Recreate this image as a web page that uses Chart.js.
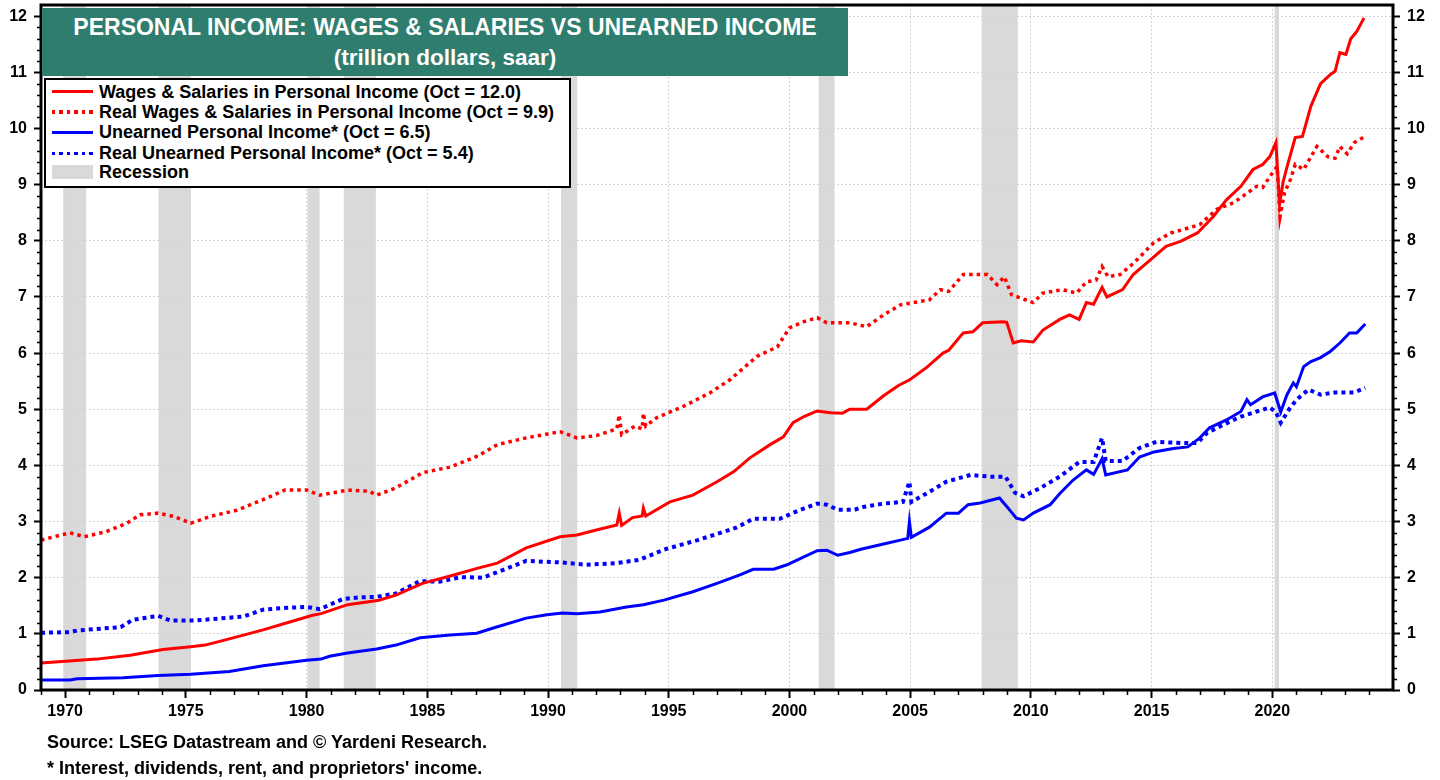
<!DOCTYPE html>
<html>
<head>
<meta charset="utf-8">
<script src="https://cdn.jsdelivr.net/npm/chart.js@4.4.1/dist/chart.umd.min.js"></script>
<style>
  html, body { margin: 0; padding: 0; background: #fff; }
  #wrap { position: relative; width: 1440px; height: 780px; overflow: hidden; font-family: "Liberation Sans", Arial, sans-serif; }
  canvas { position: absolute; left: 0; top: 0; }
  #titlebox { position: absolute; left: 42px; top: 8px; width: 806px; height: 68px; background: #2e7d6e; color: #fff; font-weight: bold; font-size: 22.5px; text-align: center; }
  #titlebox .l1 { position: absolute; left: 0; right: 0; top: 6px; line-height: 26px; white-space: nowrap; font-size: 23px; }
  #titlebox .l2 { position: absolute; left: 0; right: 0; top: 37px; line-height: 26px; white-space: nowrap; }
  #legend { position: absolute; left: 44px; top: 78px; width: 527px; height: 110px; box-sizing: border-box; border: 2px solid #000; background: #fff; }
  .row { position: absolute; left: 0; height: 20px; }
  .sample { position: absolute; left: 6px; width: 41px; }
  .ltext { position: absolute; left: 53px; top: 0; white-space: nowrap; font-weight: bold; font-size: 18px; line-height: 20px; color: #000; }
  .solid-red { top: 8.5px; height: 3px; background: #ff0000; }
  .dot-red { top: 8.5px; height: 3.5px; background: repeating-linear-gradient(90deg, #ff0000 0 3.5px, transparent 3.5px 7.5px); }
  .solid-blue { top: 8.5px; height: 3px; background: #0000ff; }
  .dot-blue { top: 8.5px; height: 3.5px; background: repeating-linear-gradient(90deg, #0000ff 0 3.5px, transparent 3.5px 7.5px); }
  .rec { top: 3px; height: 14px; background: #d9d9d9; }
  .note { position: absolute; left: 47px; font-weight: bold; font-size: 18px; color: #000; white-space: nowrap; line-height: 20px; }
</style>
</head>
<body>
<div id="wrap">
  <canvas id="c" width="1440" height="780"></canvas>
  <div id="titlebox">
    <div class="l1">PERSONAL INCOME: WAGES &amp; SALARIES VS UNEARNED INCOME</div>
    <div class="l2">(trillion dollars, saar)</div>
  </div>
  <div id="legend"></div>
  <div class="note" style="top:732px">Source: LSEG Datastream and © Yardeni Research.</div>
  <div class="note" style="top:758px">* Interest, dividends, rent, and proprietors' income.</div>
</div>
<script>
// ---------- DATA ----------
const seriesNames = [
  "Wages & Salaries in Personal Income (Oct = 12.0)",
  "Real Wages & Salaries in Personal Income (Oct = 9.9)",
  "Unearned Personal Income* (Oct = 6.5)",
  "Real Unearned Personal Income* (Oct = 5.4)"
];
const recessionLabel = "Recession";

const wagesYears = [1969.0,1970.3,1971.3,1972.7,1974.05,1975.2,1975.8,1976.8,1978.2,1979.3,1980.25,1980.6,1981.7,1983.0,1983.7,1984.8,1985.95,1987.1,1987.9,1989.1,1990.5,1991.2,1992.0,1992.85,1992.95,1993.05,1993.5,1993.9,1993.95,1994.05,1995.05,1996.0,1997.0,1997.7,1998.35,1999.2,1999.75,2000.15,2000.6,2001.15,2001.7,2002.2,2002.5,2003.2,2003.9,2004.5,2005.0,2005.7,2006.36,2006.6,2007.2,2007.6,2008.0,2008.85,2009.0,2009.27,2009.6,2010.1,2010.5,2011.2,2011.6,2012.0,2012.3,2012.6,2012.95,2013.15,2013.8,2014.24,2014.95,2015.6,2016.2,2016.9,2017.55,2018.1,2018.7,2019.2,2019.6,2019.9,2020.15,2020.3,2020.45,2020.6,2020.95,2021.25,2021.6,2022.0,2022.4,2022.6,2022.8,2023.05,2023.25,2023.5,2023.8];
const wagesValues = [0.48,0.52,0.55,0.62,0.72,0.77,0.80,0.91,1.07,1.21,1.33,1.36,1.52,1.60,1.69,1.90,2.03,2.17,2.26,2.53,2.73,2.76,2.85,2.94,3.15,2.93,3.07,3.10,3.24,3.10,3.35,3.47,3.71,3.89,4.13,4.37,4.51,4.76,4.87,4.97,4.94,4.93,5.00,5.00,5.24,5.42,5.53,5.75,6.00,6.05,6.36,6.38,6.54,6.56,6.55,6.18,6.22,6.20,6.41,6.60,6.68,6.60,6.90,6.87,7.17,7.00,7.13,7.40,7.66,7.90,7.99,8.14,8.43,8.73,8.97,9.27,9.36,9.50,9.75,8.65,9.05,9.30,9.84,9.86,10.40,10.80,10.96,11.02,11.35,11.32,11.60,11.73,11.97];

const realWagesYears = [1969.0,1970.2,1970.8,1971.7,1972.55,1973.1,1973.85,1974.5,1975.2,1976.0,1977.1,1978.2,1979.1,1980.0,1980.55,1981.7,1982.6,1982.9,1983.7,1984.8,1985.95,1987.1,1987.9,1989.1,1990.5,1991.2,1992.0,1992.85,1992.95,1993.05,1993.6,1993.9,1993.95,1994.05,1994.5,1995.6,1996.7,1997.55,1998.65,1999.5,2000.0,2000.6,2001.15,2001.55,2002.5,2003.2,2003.9,2004.6,2005.8,2006.25,2006.6,2007.2,2008.2,2008.6,2008.9,2009.2,2010.1,2010.5,2011.3,2011.9,2012.3,2012.7,2012.95,2013.2,2013.7,2014.25,2015.1,2015.8,2016.3,2017.0,2017.7,2018.4,2018.8,2019.35,2019.6,2020.1,2020.2,2020.32,2020.5,2020.75,2020.95,2021.3,2021.7,2021.85,2022.3,2022.6,2022.8,2023.1,2023.4,2023.85];
const realWagesValues = [2.67,2.80,2.73,2.82,2.97,3.12,3.15,3.09,2.97,3.09,3.20,3.39,3.56,3.56,3.47,3.56,3.54,3.47,3.60,3.87,3.97,4.17,4.37,4.49,4.60,4.49,4.53,4.65,4.90,4.55,4.70,4.65,4.93,4.70,4.85,5.05,5.29,5.53,5.94,6.11,6.45,6.56,6.63,6.54,6.54,6.47,6.68,6.86,6.95,7.13,7.10,7.40,7.40,7.22,7.36,7.04,6.90,7.07,7.13,7.07,7.27,7.30,7.54,7.36,7.40,7.60,7.97,8.14,8.20,8.29,8.56,8.68,8.80,8.97,8.95,9.27,9.32,8.43,8.85,9.09,9.36,9.27,9.57,9.68,9.50,9.47,9.68,9.55,9.75,9.86];

const unearnedYears = [1969.0,1970.2,1970.5,1972.4,1973.85,1975.2,1976.8,1978.2,1980.0,1980.6,1980.95,1981.7,1982.9,1983.7,1984.7,1985.95,1987.05,1987.7,1989.1,1989.95,1990.6,1991.2,1992.15,1993.25,1993.95,1994.8,1996.0,1997.0,1997.95,1998.5,1999.35,1999.9,2000.6,2001.15,2001.55,2002.0,2002.5,2003.0,2003.9,2004.6,2004.9,2004.97,2005.05,2005.8,2006.5,2007.0,2007.4,2007.9,2008.7,2009.0,2009.4,2009.7,2010.1,2010.8,2011.2,2011.75,2012.3,2012.6,2012.95,2013.1,2014.0,2014.5,2015.1,2015.9,2016.5,2017.0,2017.4,2018.1,2018.7,2018.95,2019.1,2019.6,2020.1,2020.35,2020.6,2020.87,2021.0,2021.3,2021.6,2022.0,2022.4,2022.8,2023.2,2023.5,2023.85];
const unearnedValues = [0.18,0.18,0.20,0.22,0.26,0.28,0.33,0.43,0.53,0.55,0.60,0.66,0.73,0.80,0.93,0.98,1.01,1.10,1.28,1.34,1.37,1.36,1.39,1.48,1.52,1.60,1.75,1.90,2.05,2.15,2.15,2.23,2.37,2.48,2.49,2.40,2.45,2.51,2.60,2.67,2.70,3.00,2.72,2.90,3.15,3.15,3.30,3.33,3.42,3.27,3.06,3.03,3.15,3.30,3.50,3.74,3.92,3.84,4.12,3.83,3.92,4.15,4.24,4.30,4.33,4.49,4.67,4.81,4.96,5.17,5.08,5.22,5.29,4.95,5.25,5.47,5.40,5.76,5.85,5.92,6.03,6.18,6.36,6.36,6.52];

const realUnearnedYears = [1969.0,1970.2,1970.5,1972.3,1972.8,1973.85,1974.35,1975.45,1977.4,1978.2,1979.0,1980.0,1980.55,1981.5,1982.2,1982.9,1983.7,1984.7,1985.5,1986.4,1987.3,1988.15,1989.1,1990.6,1991.6,1992.85,1993.8,1994.8,1996.2,1997.8,1998.5,1999.6,2000.45,2001.15,2001.55,2002.0,2002.7,2003.05,2003.9,2004.7,2004.97,2005.05,2005.8,2006.5,2007.5,2008.3,2008.95,2009.35,2009.7,2010.4,2011.2,2012.0,2012.6,2012.95,2013.1,2013.8,2014.5,2015.2,2016.2,2016.9,2017.3,2017.95,2018.7,2019.35,2019.9,2020.15,2020.35,2020.7,2021.0,2021.5,2022.0,2022.6,2023.4,2023.85];
const realUnearnedValues = [1.02,1.03,1.06,1.12,1.25,1.32,1.24,1.24,1.31,1.43,1.46,1.48,1.44,1.62,1.65,1.66,1.72,1.94,1.93,2.01,2.00,2.14,2.30,2.27,2.23,2.26,2.32,2.50,2.67,2.89,3.05,3.05,3.21,3.32,3.30,3.21,3.21,3.26,3.32,3.35,3.71,3.35,3.53,3.71,3.83,3.80,3.80,3.51,3.45,3.60,3.80,4.06,4.06,4.49,4.08,4.08,4.31,4.42,4.40,4.40,4.58,4.72,4.87,4.96,5.03,4.95,4.76,5.00,5.17,5.35,5.26,5.30,5.30,5.38];

const recessionStarts = [1969.92,1973.87,1980.04,1981.54,1990.54,2001.21,2007.96,2020.10];
const recessionEnds   = [1970.87,1975.21,1980.54,1982.87,1991.21,2001.87,2009.46,2020.28];

const xTickYears  = [1970,1975,1980,1985,1990,1995,2000,2005,2010,2015,2020];
const xTickLabels = ["1970","1975","1980","1985","1990","1995","2000","2005","2010","2015","2020"];
const yTickValues = [0,1,2,3,4,5,6,7,8,9,10,11,12];
const yTickLabels = ["0","1","2","3","4","5","6","7","8","9","10","11","12"];

// ---------- BUILD ----------
const RED = "#ff0000", BLUE = "#0000ff", BAND = "#d9d9d9";
function pts(xs, ys) { return xs.map((x, i) => ({ x: x, y: ys[i] })); }

const legendItems = [
  { cls: "solid-red", text: seriesNames[0] },
  { cls: "dot-red", text: seriesNames[1] },
  { cls: "solid-blue", text: seriesNames[2] },
  { cls: "dot-blue", text: seriesNames[3] },
  { cls: "rec", text: recessionLabel }
];
const rowTops = [1.5, 21.5, 42, 63, 82];
const legendEl = document.getElementById("legend");
legendItems.forEach((it, i) => {
  const row = document.createElement("div");
  row.className = "row";
  row.style.top = rowTops[i] + "px";
  row.style.width = "100%";
  const s = document.createElement("div");
  s.className = "sample " + it.cls;
  const t = document.createElement("div");
  t.className = "ltext";
  t.textContent = it.text;
  row.appendChild(s); row.appendChild(t);
  legendEl.appendChild(row);
});

const bandsPlugin = {
  id: "bands",
  beforeDraw(chart) {
    const { ctx, chartArea, scales } = chart;
    ctx.save();
    ctx.fillStyle = BAND;
    recessionStarts.forEach((s, i) => {
      const x0 = scales.x.getPixelForValue(s);
      const x1 = scales.x.getPixelForValue(recessionEnds[i]);
      ctx.fillRect(x0, chartArea.top, x1 - x0, chartArea.bottom - chartArea.top);
    });
    ctx.restore();
  }
};

const framePlugin = {
  id: "frame",
  afterDraw(chart) {
    const { ctx, chartArea, scales } = chart;
    const { left, right, top, bottom } = chartArea;
    ctx.save();
    ctx.strokeStyle = "#000";
    ctx.lineWidth = 1.5;
    ctx.beginPath();
    for (let k = 0; k <= 61; k++) {
      if (k % 5 === 0) continue;
      const v = k * 0.2;
      if (v > scales.y.max) break;
      const py = Math.round(scales.y.getPixelForValue(v)) + 0.5;
      ctx.moveTo(left - 4, py); ctx.lineTo(left, py);
      ctx.moveTo(right, py); ctx.lineTo(right + 4, py);
    }
    for (let yr = 1969; yr <= 2025; yr++) {
      if (yr % 5 === 0) continue;
      const px = Math.round(scales.x.getPixelForValue(yr)) + 0.5;
      ctx.moveTo(px, bottom); ctx.lineTo(px, bottom + 5);
    }
    ctx.stroke();
    ctx.lineWidth = 3;
    ctx.strokeRect(left, top, right - left, bottom - top);
    ctx.restore();
  }
};

const tickFont = { family: "'Liberation Sans', Arial, sans-serif", size: 16, weight: "bold" };

new Chart(document.getElementById("c").getContext("2d"), {
  type: "line",
  data: {
    datasets: [
      { label: seriesNames[0], data: pts(wagesYears, wagesValues), borderColor: RED, borderWidth: 3, pointRadius: 0, tension: 0 },
      { label: seriesNames[2], data: pts(unearnedYears, unearnedValues), borderColor: BLUE, borderWidth: 3, pointRadius: 0, tension: 0 },
      { label: seriesNames[1], data: pts(realWagesYears, realWagesValues), borderColor: RED, borderWidth: 3.5, borderDash: [3.5, 4], pointRadius: 0, tension: 0 },
      { label: seriesNames[3], data: pts(realUnearnedYears, realUnearnedValues), borderColor: BLUE, borderWidth: 4, borderDash: [4, 4], pointRadius: 0, tension: 0 }
    ]
  },
  options: {
    responsive: false,
    animation: false,
    events: [],
    layout: { padding: { top: 5, left: 0, right: 0, bottom: 0 } },
    plugins: { legend: { display: false }, tooltip: { enabled: false }, title: { display: false } },
    scales: {
      x: {
        type: "linear", position: "bottom", min: 1969, max: 2025,
        afterBuildTicks: s => { s.ticks = xTickYears.map(v => ({ value: v })); },
        afterFit: s => { s.height = 90; s.paddingLeft = 0; s.paddingRight = 0; },
        ticks: { font: tickFont, color: "#000", padding: 4, maxRotation: 0, autoSkip: false,
                 callback: (v, i) => xTickLabels[i] },
        grid: { color: "#d4d4d4", lineWidth: 1, tickLength: 8, tickColor: "#000", tickWidth: 2 },
        border: { display: false, dash: [2, 2] }
      },
      y: {
        type: "linear", position: "left", min: 0, max: 12.2,
        afterBuildTicks: s => { s.ticks = yTickValues.map(v => ({ value: v })); },
        afterFit: s => { s.width = 41; s.paddingTop = 0; s.paddingBottom = 0; },
        ticks: { font: tickFont, color: "#000", padding: 7, callback: (v, i) => yTickLabels[i] },
        grid: { color: "#d4d4d4", lineWidth: 1, tickLength: 7, tickColor: "#000", tickWidth: 2 },
        border: { display: false, dash: [2, 2] }
      },
      y2: {
        type: "linear", position: "right", min: 0, max: 12.2,
        afterBuildTicks: s => { s.ticks = yTickValues.map(v => ({ value: v })); },
        afterFit: s => { s.width = 47; s.paddingTop = 0; s.paddingBottom = 0; },
        ticks: { font: tickFont, color: "#000", padding: 7, callback: (v, i) => yTickLabels[i] },
        grid: { drawOnChartArea: false, tickLength: 7, tickColor: "#000", tickWidth: 2 },
        border: { display: false }
      }
    }
  },
  plugins: [bandsPlugin, framePlugin]
});
</script>
</body>
</html>
